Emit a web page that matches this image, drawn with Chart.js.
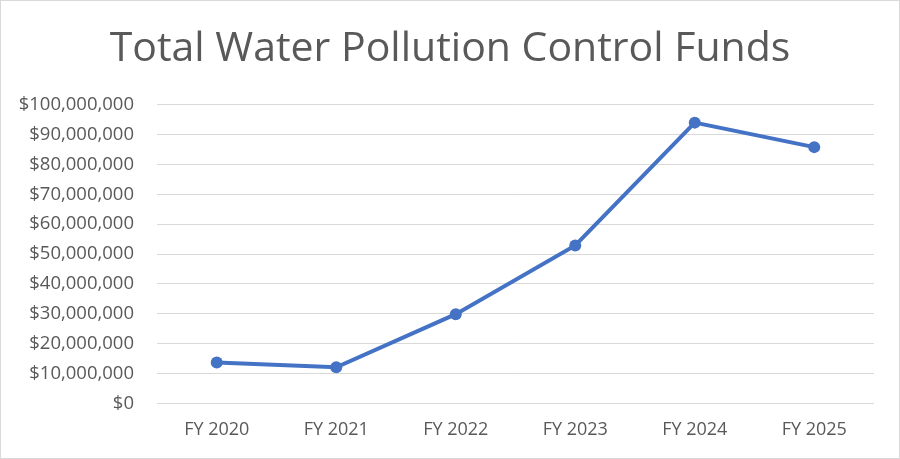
<!DOCTYPE html>
<html>
<head>
<meta charset="utf-8">
<script src="https://cdn.jsdelivr.net/npm/chart.js@4.4.1/dist/chart.umd.min.js"></script>
<style>
  html, body { margin: 0; padding: 0; background: #fff; }
  #wrap { width: 900px; height: 459px; box-sizing: border-box; border: 1px solid #d9d9d9; }
  #chart { display: block; }
</style>
</head>
<body>
<div id="wrap"><canvas id="chart" width="898" height="457"></canvas></div>
<script>
const years = ["FY 2020", "FY 2021", "FY 2022", "FY 2023", "FY 2024", "FY 2025"]
const funds = [13700000, 12100000, 29900000, 52900000, 94000000, 85800000]
const yMin = 0
const yMax = 100000000
const yStep = 10000000

const textColor = "#595959"
const font = "'Open Sans', 'Noto Sans', sans-serif"

const ctx = document.getElementById("chart").getContext("2d")
new Chart(ctx, {
  type: "line",
  data: {
    labels: years,
    datasets: [
      {
        label: "Total Water Pollution Control Funds",
        data: funds,
        borderColor: "#4472C4",
        backgroundColor: "#4472C4",
        borderWidth: 4,
        pointRadius: 6,
        pointBorderWidth: 0,
        pointBackgroundColor: "#4472C4",
        tension: 0,
        fill: false
      }
    ]
  },
  options: {
    responsive: false,
    animation: false,
    devicePixelRatio: 1,
    layout: { padding: 0 },
    scales: {
      x: {
        offset: true,
        grid: { display: false, drawTicks: false },
        border: { display: false },
        ticks: { color: textColor, font: { family: font, size: 18 }, padding: 16, maxRotation: 0 },
        afterFit: scale => { scale.height = 54.5 }
      },
      y: {
        min: yMin,
        max: yMax,
        ticks: {
          stepSize: yStep,
          color: textColor,
          font: { family: font, size: 18.5 },
          padding: 23,
          callback: v => "$" + v.toLocaleString("en-US")
        },
        grid: { color: "#d9d9d9", lineWidth: 1, drawTicks: false },
        border: { display: false },
        afterFit: scale => { scale.width = 156 }
      },
      // empty right axis just reserves the right margin so the title stays centred
      gap: {
        position: "right",
        display: true,
        min: 0,
        max: 1,
        grid: { display: false, drawTicks: false },
        border: { display: false },
        ticks: { display: false },
        afterFit: scale => { scale.width = 25 }
      }
    },
    plugins: {
      legend: { display: false },
      tooltip: { enabled: false },
      title: {
        display: true,
        text: "Total Water Pollution Control Funds",
        color: textColor,
        font: { family: font, size: 41, weight: "normal" },
        padding: { top: 24, bottom: 30.5 }
      }
    }
  }
})
</script>
</body>
</html>
